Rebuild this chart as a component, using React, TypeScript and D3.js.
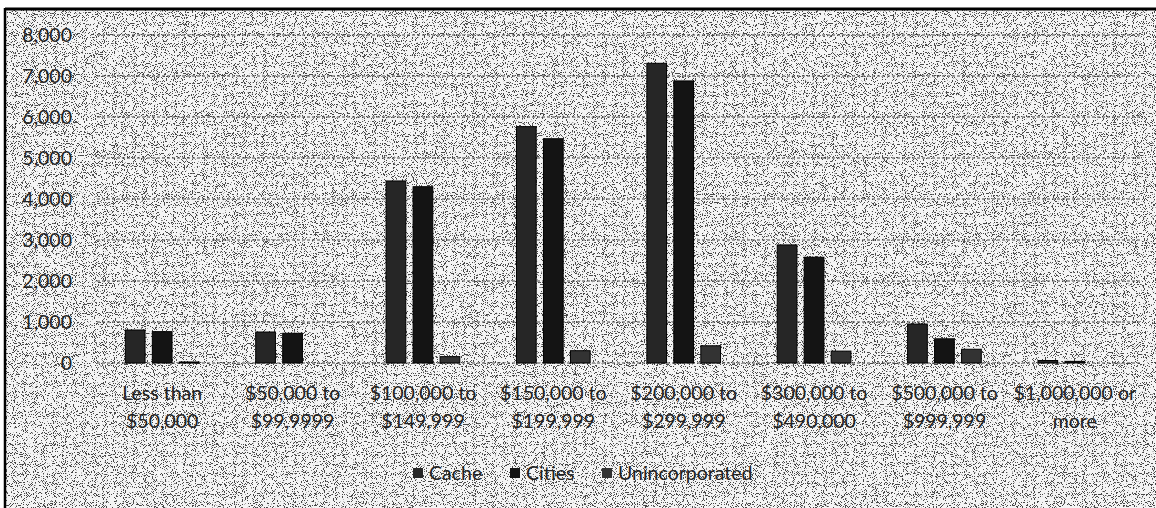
import React from "react";
import * as d3 from "d3";

const categories: string[][] = [
  ["Less than", "$50,000"],
  ["$50,000 to", "$99,9999"],
  ["$100,000 to", "$149,999"],
  ["$150,000 to", "$199,999"],
  ["$200,000 to", "$299,999"],
  ["$300,000 to", "$490,000"],
  ["$500,000 to", "$999,999"],
  ["$1,000,000 or", "more"],
];
const seriesNames = ["Cache", "Cities", "Unincorporated"];
const cacheValues = [805, 756, 4440, 5765, 7310, 2880, 950, 60];
const citiesValues = [765, 725, 4300, 5470, 6880, 2580, 590, 40];
const unincValues = [25, 0, 155, 300, 420, 290, 335, 0];
const yTicks = [0, 1000, 2000, 3000, 4000, 5000, 6000, 7000, 8000];

const W = 1156;
const H = 508;
const colors = ["#262626", "#141414", "#333333"];
const font = "Lato, 'Open Sans', sans-serif";

export default function App() {
  const series = [cacheValues, citiesValues, unincValues];
  const x0 = d3.scaleBand<number>().domain(d3.range(categories.length)).range([97, 1140]).paddingInner(0).paddingOuter(0);
  const x1 = d3.scaleBand<number>().domain([0, 1, 2]).range([0, x0.bandwidth()]).paddingInner(0.27).paddingOuter(1.05);
  const y = d3.scaleLinear().domain([0, 8000]).range([363, 35]);
  const fmt = d3.format(",");

  return (
    <svg width={W} height={H} style={{ position: "absolute", left: 0, top: 0 }}>
      <defs>
        <filter id="speckle" x="0" y="0" width="100%" height="100%">
          <feTurbulence type="fractalNoise" baseFrequency="1.1" numOctaves="1" seed="3" result="n" />
          <feColorMatrix in="n" type="matrix" values="0 0 0 0 0  0 0 0 0 0  0 0 0 0 0  0 0 0 -30 12.6" result="a" />
          <feComposite in="SourceGraphic" in2="a" operator="in" />
        </filter>
      </defs>
      <rect x={0} y={0} width={W} height={H} fill="#ffffff" />
      <rect x={5} y={9} width={W - 5} height={H - 9} fill="#f4f4f4" />
      <rect x={5} y={9} width={W - 5} height={H - 9} fill="#111" opacity={0.75} filter="url(#speckle)" />
      <line x1={5} y1={9} x2={W} y2={9} stroke="#000" strokeWidth={3} />
      <line x1={5} y1={8} x2={5} y2={H} stroke="#000" strokeWidth={2.5} />

      {yTicks.map((t) => (
        <g key={t}>
          <line x1={97} x2={1140} y1={y(t)} y2={y(t)} stroke="#444" strokeWidth={1} strokeDasharray="3,2" />
          <text x={72} y={y(t)} dy="0.35em" textAnchor="end" fontFamily={font} fontSize={19.5} fill="#222">
            {fmt(t)}
          </text>
        </g>
      ))}

      {categories.map((c, i) => (
        <g key={i} transform={`translate(${x0(i)},0)`}>
          {series.map((vals, s) =>
            vals[i] > 0 ? (
              <rect
                key={s}
                x={x1(s)}
                width={x1.bandwidth()}
                y={y(vals[i])}
                height={y(0) - y(vals[i])}
                fill={colors[s]}
                stroke="#000"
                strokeWidth={1}
              />
            ) : null
          )}
          {c.map((line, li) => (
            <text
              key={li}
              x={x0.bandwidth() / 2}
              y={400 + li * 28}
              textAnchor="middle"
              fontFamily={font}
              fontSize={19.5}
              fill="#222"
            >
              {line}
            </text>
          ))}
        </g>
      ))}

      {seriesNames.map((name, s) => {
        const lx = [413, 510, 602][s];
        return (
          <g key={name}>
            <rect x={lx} y={468} width={10} height={10} fill={colors[s]} />
            <text x={lx + 16} y={473} dy="0.35em" fontFamily={font} fontSize={19.5} fill="#222">
              {name}
            </text>
          </g>
        );
      })}
    </svg>
  );
}
